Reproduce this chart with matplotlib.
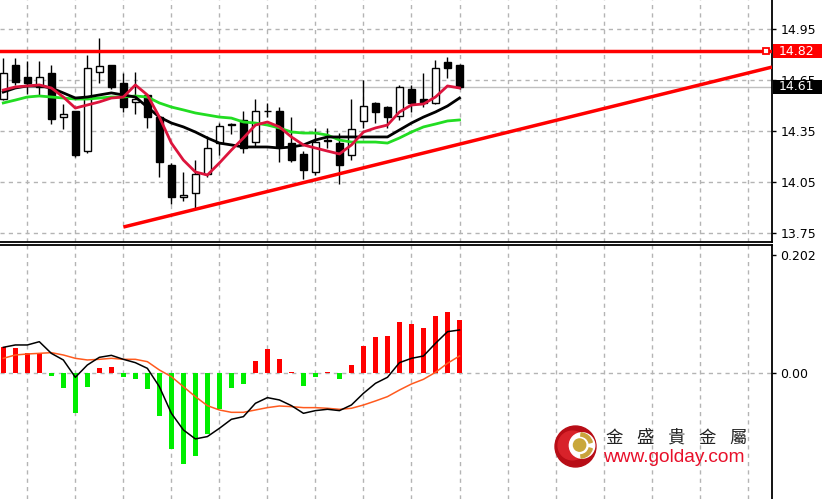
import matplotlib
matplotlib.use('Agg')
import matplotlib.pyplot as plt
from matplotlib.patches import Circle, Wedge, Rectangle
from matplotlib.transforms import blended_transform_factory
import numpy as np

# K线数据 (开, 高, 低, 收)
opens = [14.54, 14.74, 14.67, 14.61, 14.69, 14.43, 14.47, 14.23, 14.70, 14.74,
         14.63, 14.52, 14.56, 14.43, 14.15, 13.96, 13.985, 14.10, 14.28, 14.385,
         14.415, 14.285, 14.465, 14.47, 14.28, 14.215, 14.11, 14.29, 14.28, 14.21,
         14.41, 14.515, 14.49, 14.44, 14.60, 14.54, 14.515, 14.755, 14.74]
highs = [14.78, 14.78, 14.76, 14.76, 14.74, 14.51, 14.47, 14.80, 14.90, 14.74,
         14.69, 14.70, 14.57, 14.43, 14.16, 14.11, 14.18, 14.32, 14.40, 14.40,
         14.47, 14.54, 14.515, 14.49, 14.43, 14.23, 14.37, 14.37, 14.34, 14.54,
         14.65, 14.52, 14.50, 14.62, 14.62, 14.69, 14.77, 14.785, 14.745]
lows = [14.53, 14.62, 14.57, 14.56, 14.39, 14.36, 14.20, 14.22, 14.63, 14.60,
        14.46, 14.45, 14.37, 14.08, 13.92, 13.94, 13.90, 14.08, 14.21, 14.33,
        14.22, 14.26, 14.43, 14.17, 14.17, 14.07, 14.09, 14.25, 14.04, 14.18,
        14.37, 14.40, 14.37, 14.415, 14.46, 14.49, 14.51, 14.66, 14.60]
closes = [14.69, 14.64, 14.63, 14.67, 14.42, 14.45, 14.21, 14.72, 14.73, 14.61,
          14.49, 14.54, 14.43, 14.17, 13.96, 13.975, 14.10, 14.25, 14.38, 14.39,
          14.25, 14.47, 14.47, 14.26, 14.18, 14.12, 14.285, 14.30, 14.15, 14.36,
          14.50, 14.46, 14.43, 14.61, 14.515, 14.515, 14.72, 14.72, 14.61]

# 均线
ma_red = [14.591, 14.609, 14.615, 14.621, 14.603, 14.550, 14.485, 14.503, 14.521, 14.544,
          14.550, 14.621, 14.562, 14.432, 14.279, 14.179, 14.109, 14.091, 14.162, 14.238,
          14.309, 14.385, 14.403, 14.374, 14.315, 14.268, 14.250, 14.232, 14.215, 14.268,
          14.344, 14.368, 14.385, 14.462, 14.503, 14.509, 14.550, 14.615, 14.603]
ma_black = [14.579, 14.603, 14.615, 14.615, 14.603, 14.574, 14.544, 14.550, 14.562, 14.574,
            14.562, 14.550, 14.491, 14.432, 14.397, 14.374, 14.344, 14.309, 14.279, 14.268,
            14.256, 14.256, 14.256, 14.250, 14.256, 14.268, 14.297, 14.315, 14.315, 14.315,
            14.315, 14.315, 14.315, 14.356, 14.397, 14.432, 14.462, 14.497, 14.544]
ma_green = [14.515, 14.532, 14.550, 14.556, 14.550, 14.544, 14.538, 14.538, 14.544, 14.550,
            14.550, 14.556, 14.550, 14.515, 14.491, 14.474, 14.456, 14.444, 14.432, 14.426,
            14.403, 14.397, 14.385, 14.368, 14.344, 14.338, 14.338, 14.326, 14.297, 14.285,
            14.285, 14.285, 14.279, 14.309, 14.344, 14.374, 14.391, 14.409, 14.415]

# 阻力线与趋势线
resist_price = 14.82
last_price = 14.61
trend_x = [10, 64.03]
trend_y = [13.785, 14.726]

# MACD
hist = [0.0444, 0.0427, 0.034, 0.035, -0.0046, -0.0245, -0.068, -0.0228, 0.0085, 0.0102,
        -0.0068, -0.0097, -0.0273, -0.0728, -0.129, -0.155, -0.142, -0.104, -0.061, -0.0256,
        -0.018, 0.021, 0.0415, 0.024, 0.0017, -0.0216, -0.0068, 0.0017, -0.0091, 0.0137,
        0.0467, 0.062, 0.0643, 0.0876, 0.0848, 0.0774, 0.0973, 0.105, 0.0905]
macd = [0.0444, 0.0484, 0.0484, 0.054, 0.0341, 0.0228, -0.0068, 0.0142, 0.0273, 0.0307,
        0.0239, 0.0182, 0.0085, -0.0228, -0.0683, -0.0967, -0.112, -0.108, -0.0939, -0.0785,
        -0.074, -0.0512, -0.0415, -0.0455, -0.0552, -0.0683, -0.0637, -0.0614, -0.0637, -0.054,
        -0.0341, -0.0171, -0.0068, 0.0182, 0.0256, 0.0296, 0.0512, 0.0711, 0.074]
signal = [0.0256, 0.0313, 0.033, 0.0341, 0.0353, 0.0313, 0.0256, 0.0228, 0.0239, 0.0256,
          0.0239, 0.0239, 0.0199, 0.0057, -0.0057, -0.0228, -0.0398, -0.0552, -0.0626, -0.0666,
          -0.0666, -0.0626, -0.0586, -0.0558, -0.0569, -0.0586, -0.0586, -0.0597, -0.0615, -0.0597,
          -0.0541, -0.0472, -0.0398, -0.0285, -0.0182, -0.0102, 0.0017, 0.0171, 0.0296]

price_ticks = [14.95, 14.65, 14.35, 14.05, 13.75]
macd_ticks = [0.202, 0.0]
macd_labels = ['0.202', '0.00']
brand = '金盛貴金屬'
site = 'www.golday.com'

x = np.arange(len(closes))
o = np.array(opens); c = np.array(closes)
h = np.array(highs); l = np.array(lows)

plt.rcParams['font.family'] = ['DejaVu Sans']
W, H = 822, 499
fig = plt.figure(figsize=(W / 100, H / 100), dpi=100)
ax1 = fig.add_axes([0, 1 - 241.5 / H, 772 / W, 241.5 / H])
ax2 = fig.add_axes([0, 0, 772 / W, 254 / H])

xlim = (-0.275, 64.03)
grid_x = np.arange(2, 64, 4)
grid_kw = dict(color='#b4b4b4', lw=1, ls=(0, (3, 3)), zorder=0)

for ax in (ax1, ax2):
    ax.set_xlim(*xlim)
    ax.set_xticks([])
    for gx in grid_x:
        ax.axvline(gx, **grid_kw)
    ax.yaxis.tick_right()
    ax.tick_params(axis='y', length=3, width=1, pad=3, labelsize=9, colors='black')
    for s in ('left', 'top', 'bottom', 'right'):
        ax.spines[s].set_visible(False)
    ax.spines['right'].set_visible(True)
    ax.spines['right'].set_linewidth(1.3)

# 上图: K线
ax1.set_ylim(13.70, 15.1206)
ax1.set_yticks(price_ticks)
ax1.set_yticklabels(['%.2f' % v for v in price_ticks])
ax1.spines['bottom'].set_visible(True)
ax1.spines['bottom'].set_linewidth(1.3)
for gy in price_ticks:
    ax1.axhline(gy, **grid_kw)

ax1.axhline(last_price, color='#c0c0c0', lw=1, zorder=1)

ax1.vlines(x, l, h, color='black', lw=1, zorder=2)
up = c >= o
body_bot = np.minimum(o, c)
body_h = np.maximum(np.abs(c - o), 0.004)
ax1.bar(x[up], body_h[up], bottom=body_bot[up], width=0.58,
        color='white', edgecolor='black', lw=1, zorder=3)
ax1.bar(x[~up], body_h[~up], bottom=body_bot[~up], width=0.58,
        color='black', edgecolor='black', lw=1, zorder=3)

ax1.plot(x, ma_green, color='#22dd22', lw=2, zorder=4)
ax1.plot(x, ma_black, color='black', lw=2, zorder=4)
ax1.plot(x, ma_red, color='#dc143c', lw=2, zorder=5)

ax1.axhline(resist_price, color='#ff0000', lw=2.5, zorder=6)
ax1.plot([63.5], [resist_price], marker='s', ms=5, mfc='white', mec='#ff0000', mew=1.3, zorder=7)
ax1.plot(trend_x, trend_y, color='#ff0000', lw=2.5, zorder=6, solid_capstyle='butt')

# 右侧价格标签
bt = blended_transform_factory(ax1.transAxes, ax1.transData)
for val, fc in ((resist_price, '#ff0000'), (last_price, 'black')):
    ax1.add_patch(Rectangle((1.001, val - 0.040), 0.066, 0.080, transform=bt,
                            facecolor=fc, edgecolor='none', clip_on=False, zorder=10))
    ax1.text(1.008, val, '%.2f' % val, transform=bt, color='white', fontsize=9,
             va='center', ha='left', clip_on=False, zorder=11)

# 下图: MACD
ax2.set_ylim(-0.2146, 0.2191)
ax2.set_yticks(macd_ticks)
ax2.set_yticklabels(macd_labels)
ax2.spines['top'].set_visible(True)
ax2.spines['top'].set_linewidth(1.3)
ax2.axhline(0, **grid_kw)
hv = np.array(hist)
cols = np.where(hv >= 0, '#ff0000', '#00ee00')
ax2.bar(x, hv, width=0.38, color=cols, zorder=2)
ax2.plot(x, signal, color='#ff5a1e', lw=1.1, zorder=3)
ax2.plot(x, macd, color='black', lw=1.1, zorder=4)

# 水印 logo
lax = fig.add_axes([554 / W, (H - 468) / H, 43 / W, 43 / H])
lax.set_xlim(-1.05, 1.05); lax.set_ylim(-1.05, 1.05)
lax.set_aspect('equal'); lax.axis('off')
lax.add_patch(Circle((0, 0), 1.0, color='#b80d16'))
lax.add_patch(Circle((-0.15, 0.05), 0.7, color='#d8222a'))
lax.add_patch(Circle((0.32, 0.05), 0.62, color='white'))
lax.add_patch(Wedge((0.22, 0.05), 0.62, 15, 85, width=0.16, color='#c9a33c'))
lax.add_patch(Wedge((0.22, 0.05), 0.62, -85, -15, width=0.16, color='#c9a33c'))
lax.add_patch(Circle((0.2, 0.07), 0.3, color='#c9a73a'))

for i, ch in enumerate(brand):
    fig.text((605 + i * 31) / W, 1 - 438 / H, ch, fontsize=12.5, color='#222222',
             family=['Noto Sans CJK TC', 'DejaVu Sans'], va='center', ha='left')
fig.text(603 / W, 1 - 457 / H, site, fontsize=13.8, color='#e8102a',
         family=['Liberation Sans', 'DejaVu Sans'], va='center', ha='left')

fig.savefig('out.png', dpi=100)
